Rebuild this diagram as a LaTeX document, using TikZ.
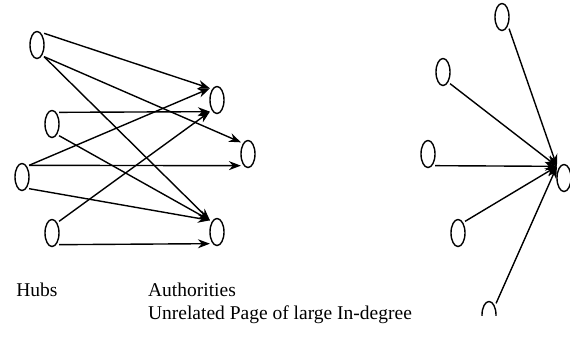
\documentclass[tikz,border=0pt]{standalone}
\usepackage{fontspec}
\setmainfont{Liberation Serif}
\usetikzlibrary{shapes.geometric, arrows.meta}

\begin{document}
\begin{tikzpicture}[
      x=1pt, y=-1pt,
      font=\fontsize{19.5}{23}\selectfont,
      page/.style={draw, ellipse, line width=1.4pt, minimum width=14pt,
                   minimum height=27pt, inner sep=0pt, outer sep=3pt},
      lbl/.style={anchor=base, inner sep=0pt},
      arr/.style={-{Stealth[length=12pt, width=9pt]}, line width=1.4pt},
    ]
    \useasboundingbox (0,0) rectangle (570,354);
    % ── hubs and authorities ──
    \foreach \n/\x/\y in {h1/37/45, h2/52/124, h3/22/177, h4/52/233,
                          a1/217/100, a2/248/154, a3/217/232}
      \node[page] (\n) at (\x,\y) {};
    \foreach \a/\b in {h1.north east/a1.north west, h1.south east/a2.north west,
                       h1.south east/a3.north west, h2.north east/a1.south west,
                       h2.south east/a3.north west, h3.north east/a1.north west,
                       h3.north east/a2.south west, h3.south east/a3.north west,
                       h4.north east/a1.south west, h4.south east/a3.south west}
      \draw[arr] (\a) -- (\b);
    \node[lbl] (hubs) at (37,296.5) {Hubs};
    \node[lbl] (auth) at (192,296) {Authorities};
    % ── unrelated page ──
    \begin{scope}
      \clip (420,0) rectangle (570,315);
      \foreach \n/\x/\y in {r1/502/17, r2/443/72, r3/428/154, r4/458/233, r5/489/315}
        \node[page] (\n) at (\x,\y) {};
      \node[page] (tgt) at (564,178) {};
      \foreach \s in {r1.south east, r2.south east, r3.south east,
                      r4.north east, r5.north east}
        \draw[arr] (\s) -- (tgt.north west);
    \end{scope}
    \node[lbl] (cap) at (280,319) {Unrelated Page of large In-degree};
  \end{tikzpicture}
\end{document}
